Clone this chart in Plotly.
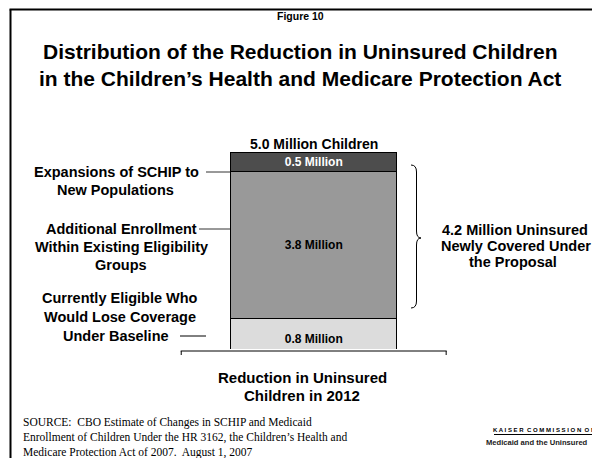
import plotly.graph_objects as go

# The page body has an 8px margin, so the figure is drawn at (8, 8).
OFF = 8
W, H = 600 - OFF, 458 - OFF

# ---- data ----
segments = ["Currently Eligible Who Would Lose Coverage Under Baseline",
            "Additional Enrollment Within Existing Eligibility Groups",
            "Expansions of SCHIP to New Populations"]
values = [0.8, 3.8, 0.5]
seg_labels = ["0.8 Million", "3.8 Million", "0.5 Million"]
total_label = "5.0 Million Children"
category = ["Reduction in Uninsured", "Children in 2012"]
label_expansions = ["Expansions of SCHIP to", "New Populations"]
label_additional = ["Additional Enrollment", "Within Existing Eligibility", "Groups"]
label_current = ["Currently Eligible Who", "Would Lose Coverage", "Under Baseline"]
bracket_label = ["4.2 Million Uninsured", "Newly Covered Under", "the Proposal"]
title_lines = ["Distribution of the Reduction in Uninsured Children",
               "in the Children’s Health and Medicare Protection Act"]
source_lines = ["SOURCE:  CBO Estimate of Changes in SCHIP and Medicaid",
                "Enrollment of Children Under the HR 3162, the Children’s Health and",
                "Medicare Protection Act of 2007.  August 1, 2007"]
logo_top = "K A I S E R  C O M M I S S I O N  O N"
logo_bottom = "Medicaid and the Uninsured"

# ---- styles ----
seg_colors = ["#dcdcdc", "#999999", "#4d4d4d"]
seg_text_colors = ["black", "black", "white"]
seg_anchor = ["start", "middle", "middle"]
FONT = "Arial, 'Liberation Sans', sans-serif"


def px(x):
    return (x - OFF) / W


def py(y):
    return 1 - (y - OFF) / H


fig = go.Figure()
for name, v, lab, col, tcol, anc in zip(segments, values, seg_labels, seg_colors,
                                        seg_text_colors, seg_anchor):
    fig.add_trace(go.Bar(
        x=[0], y=[v], name=name, width=1.0,
        marker=dict(color=col, line=dict(color="black", width=1)),
        text=[lab], textposition="inside", insidetextanchor=anc,
        textangle=0, constraintext="none",
        textfont=dict(family=FONT, size=12, color=tcol, weight="bold"),
        hoverinfo="skip",
    ))

fig.update_layout(
    width=W, height=H, barmode="stack", showlegend=False,
    margin=dict(l=0, r=0, t=0, b=0),
    paper_bgcolor="white", plot_bgcolor="white",
    font=dict(family=FONT, color="black"),
    xaxis=dict(domain=[px(180.7), px(446.7)], range=[-0.8, 0.8],
               showgrid=False, zeroline=False, showticklabels=False, ticks=""),
    yaxis=dict(domain=[py(349), py(152)], range=[0, 5.1],
               showgrid=False, zeroline=False, showticklabels=False, ticks=""),
)

shapes = []
frame = dict(color="black", width=2)
shapes.append(dict(type="line", xref="paper", yref="paper", x0=px(9.5), x1=1.0,
                   y0=py(9.5), y1=py(9.5), line=frame))
shapes.append(dict(type="line", xref="paper", yref="paper", x0=px(10.5), x1=px(10.5),
                   y0=py(9.5), y1=0.0, line=frame))
al = dict(color="black", width=1)
shapes.append(dict(type="line", xref="x domain", yref="paper", x0=0, x1=1,
                   y0=py(351), y1=py(351), line=al))
shapes.append(dict(type="line", xref="x domain", yref="paper", x0=0.002, x1=0.002,
                   y0=py(351), y1=py(355), line=al))
shapes.append(dict(type="line", xref="x domain", yref="paper", x0=0.998, x1=0.998,
                   y0=py(351), y1=py(355), line=al))
ll = dict(color="#333333", width=1)
shapes.append(dict(type="line", xref="paper", yref="paper", x0=px(206), x1=px(230),
                   y0=py(172), y1=py(172), line=ll))
shapes.append(dict(type="line", xref="paper", yref="paper", x0=px(199), x1=px(230),
                   y0=py(229), y1=py(229), line=ll))
shapes.append(dict(type="line", xref="paper", yref="paper", x0=px(180), x1=px(206),
                   y0=py(336), y1=py(336), line=dict(color="black", width=1)))
# curly bracket
x0, xm, xt = 411, 416.5, 421
yt, yc, yb, r = 165, 238, 308, 7
pts = (f"M {px(x0)},{py(yt)} Q {px(xm)},{py(yt)} {px(xm)},{py(yt + r)} "
       f"L {px(xm)},{py(yc - r)} Q {px(xm)},{py(yc)} {px(xt)},{py(yc)} "
       f"Q {px(xm)},{py(yc)} {px(xm)},{py(yc + r)} "
       f"L {px(xm)},{py(yb - r)} Q {px(xm)},{py(yb)} {px(x0)},{py(yb)}")
shapes.append(dict(type="path", xref="paper", yref="paper", path=pts,
                   line=dict(color="black", width=1)))
# logo underline
shapes.append(dict(type="line", xref="paper", yref="paper", x0=px(494), x1=px(597),
                   y0=py(434.5), y1=py(434.5), line=dict(color="black", width=1)))
fig.update_layout(shapes=shapes)

ann = []


def A(text, x, y, size, bold=True, xanchor="center", align="center", family=FONT,
      color="black"):
    t = f"<b>{text}</b>" if bold else text
    ann.append(dict(text=t, x=px(x), y=py(y), xref="paper", yref="paper", showarrow=False,
                    xanchor=xanchor, yanchor="middle", align=align,
                    font=dict(family=family, size=size, color=color)))


def lines(texts, xs, ys, size, **kw):
    for t, x, y in zip(texts, xs, ys):
        A(t, x, y, size, **kw)


A("Figure 10", 300, 16, 10.5)
lines(title_lines, [300, 300], [52, 78], 21)
A(total_label, 313.5, 144, 14)
lines(label_expansions, [116, 115], [172, 190], 14.5)
lines(label_additional, [121, 121, 121], [229, 247, 265], 14.5)
lines(label_current, [120, 120, 116], [298, 317, 336], 14.5)
lines(bracket_label, [515, 516, 513], [230, 246, 262], 14.5)
lines(category, [302, 302], [377, 395], 15)
A("<br>".join(source_lines), 21, 437.5, 11.5, bold=False, xanchor="left", align="left",
  family="'Times New Roman', 'Liberation Serif', serif")
A(logo_top, 597, 430, 6.0, xanchor="right")
A(logo_bottom, 590, 442, 7.6, xanchor="right", color="#1a1a1a")
fig.update_layout(annotations=ann)

fig.write_html("out.html")
